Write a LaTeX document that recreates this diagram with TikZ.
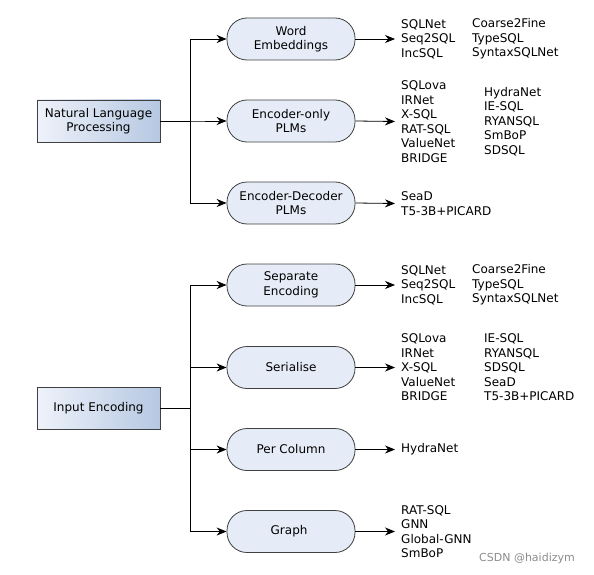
\documentclass[tikz,border=0pt]{standalone}
\usepackage{fontspec}
\setmainfont{DejaVu Sans}
\usepackage{tikz}
\usetikzlibrary{arrows.meta}
\usetikzlibrary{positioning}
\definecolor{rootleft}{RGB}{238,242,250}
\definecolor{rootright}{RGB}{182,200,226}
\definecolor{pillfill}{RGB}{230,236,247}
\tikzset{root box/.style={draw=black!75,
                          thick,
                          rectangle,
                          left color=rootleft,
                          right color=rootright,
                          minimum width=123pt,
                          minimum height=42pt,
                          align=center}}
\tikzset{pill/.style={draw=black!75,
                      thick,
                      fill=pillfill,
                      rounded corners=20pt,
                      minimum width=128pt,
                      minimum height=42pt,
                      align=center}}
\tikzset{edge/.style={draw,
                      thick,
                      -{Stealth[length=10pt,width=8pt]}}}
\tikzset{methods/.style={anchor=west,
                         align=left,
                         inner xsep=6pt,
                         inner ysep=0pt}}
\newcommand{\listfont}{\fontsize{12}{14.5}\selectfont}

\begin{document}
\begin{tikzpicture}
      [
      x=1pt,y=-1pt,
      font=\listfont,
      ]
      \useasboundingbox (0,0) rectangle (594,575);

      % roots
      \node [root box] (nlp) at (98.5,121) {Natural Language\\Processing};
      \node [root box] (ie) at (98.5,408.5) {Input Encoding};

      % categories
      \foreach \n/\y/\t in
      {
      we/39/{Word\\Embeddings},
      eo/121/{Encoder-only\\PLMs},
      ed/203/{Encoder-Decoder\\PLMs},
      se/285/{Separate\\Encoding},
      sr/367.5/{Serialise},
      pc/449.5/{Per Column},
      gr/531.5/{Graph}
      }
      {
      \node [pill] (\n) at (291,\y) {\t};
      }

      % model lists
      \node [methods] (Lwe) at (395,39) {SQLNet\\Seq2SQL\\IncSQL};
      \node [methods] (Rwe) at (466,39) {Coarse2Fine\\TypeSQL\\SyntaxSQLNet};

      \node [methods] (Leo) at (395,121.5) {SQLova\\IRNet\\X-SQL\\RAT-SQL\\ValueNet\\BRIDGE};
      \node [methods] (Reo) at (478,121.5) {HydraNet\\IE-SQL\\RYANSQL\\SmBoP\\SDSQL};

      \node [methods] (Led) at (395,203.5) {SeaD\\T5-3B+PICARD};

      \node [methods] (Lse) at (395,285) {SQLNet\\Seq2SQL\\IncSQL};
      \node [methods] (Rse) at (466,285) {Coarse2Fine\\TypeSQL\\SyntaxSQLNet};

      \node [methods] (Lsr) at (395,367.5) {SQLova\\IRNet\\X-SQL\\ValueNet\\BRIDGE};
      \node [methods] (Rsr) at (478,367.5) {IE-SQL\\RYANSQL\\SDSQL\\SeaD\\T5-3B+PICARD};

      \node [methods] (Lpc) at (395,449.5) {HydraNet};

      \node [methods] (Lgr) at (395,531.5) {RAT-SQL\\GNN\\Global-GNN\\SmBoP};

      % tree edges
      \foreach \c in {we,eo,ed}
      {
      \path [edge] (nlp.east) -- ++(30,0) |- (\c.west);
      \path [edge] (\c.east) -- (L\c.west);
      }
      \foreach \c in {se,sr,pc,gr}
      {
      \path [edge] (ie.east) -- ++(30,0) |- (\c.west);
      \path [edge] (\c.east) -- (L\c.west);
      }

      % watermark
      \node [text=black!45,font=\fontsize{11}{12}\selectfont] (mark) at (527,558) {CSDN @haidizym};

\end{tikzpicture}
\end{document}
